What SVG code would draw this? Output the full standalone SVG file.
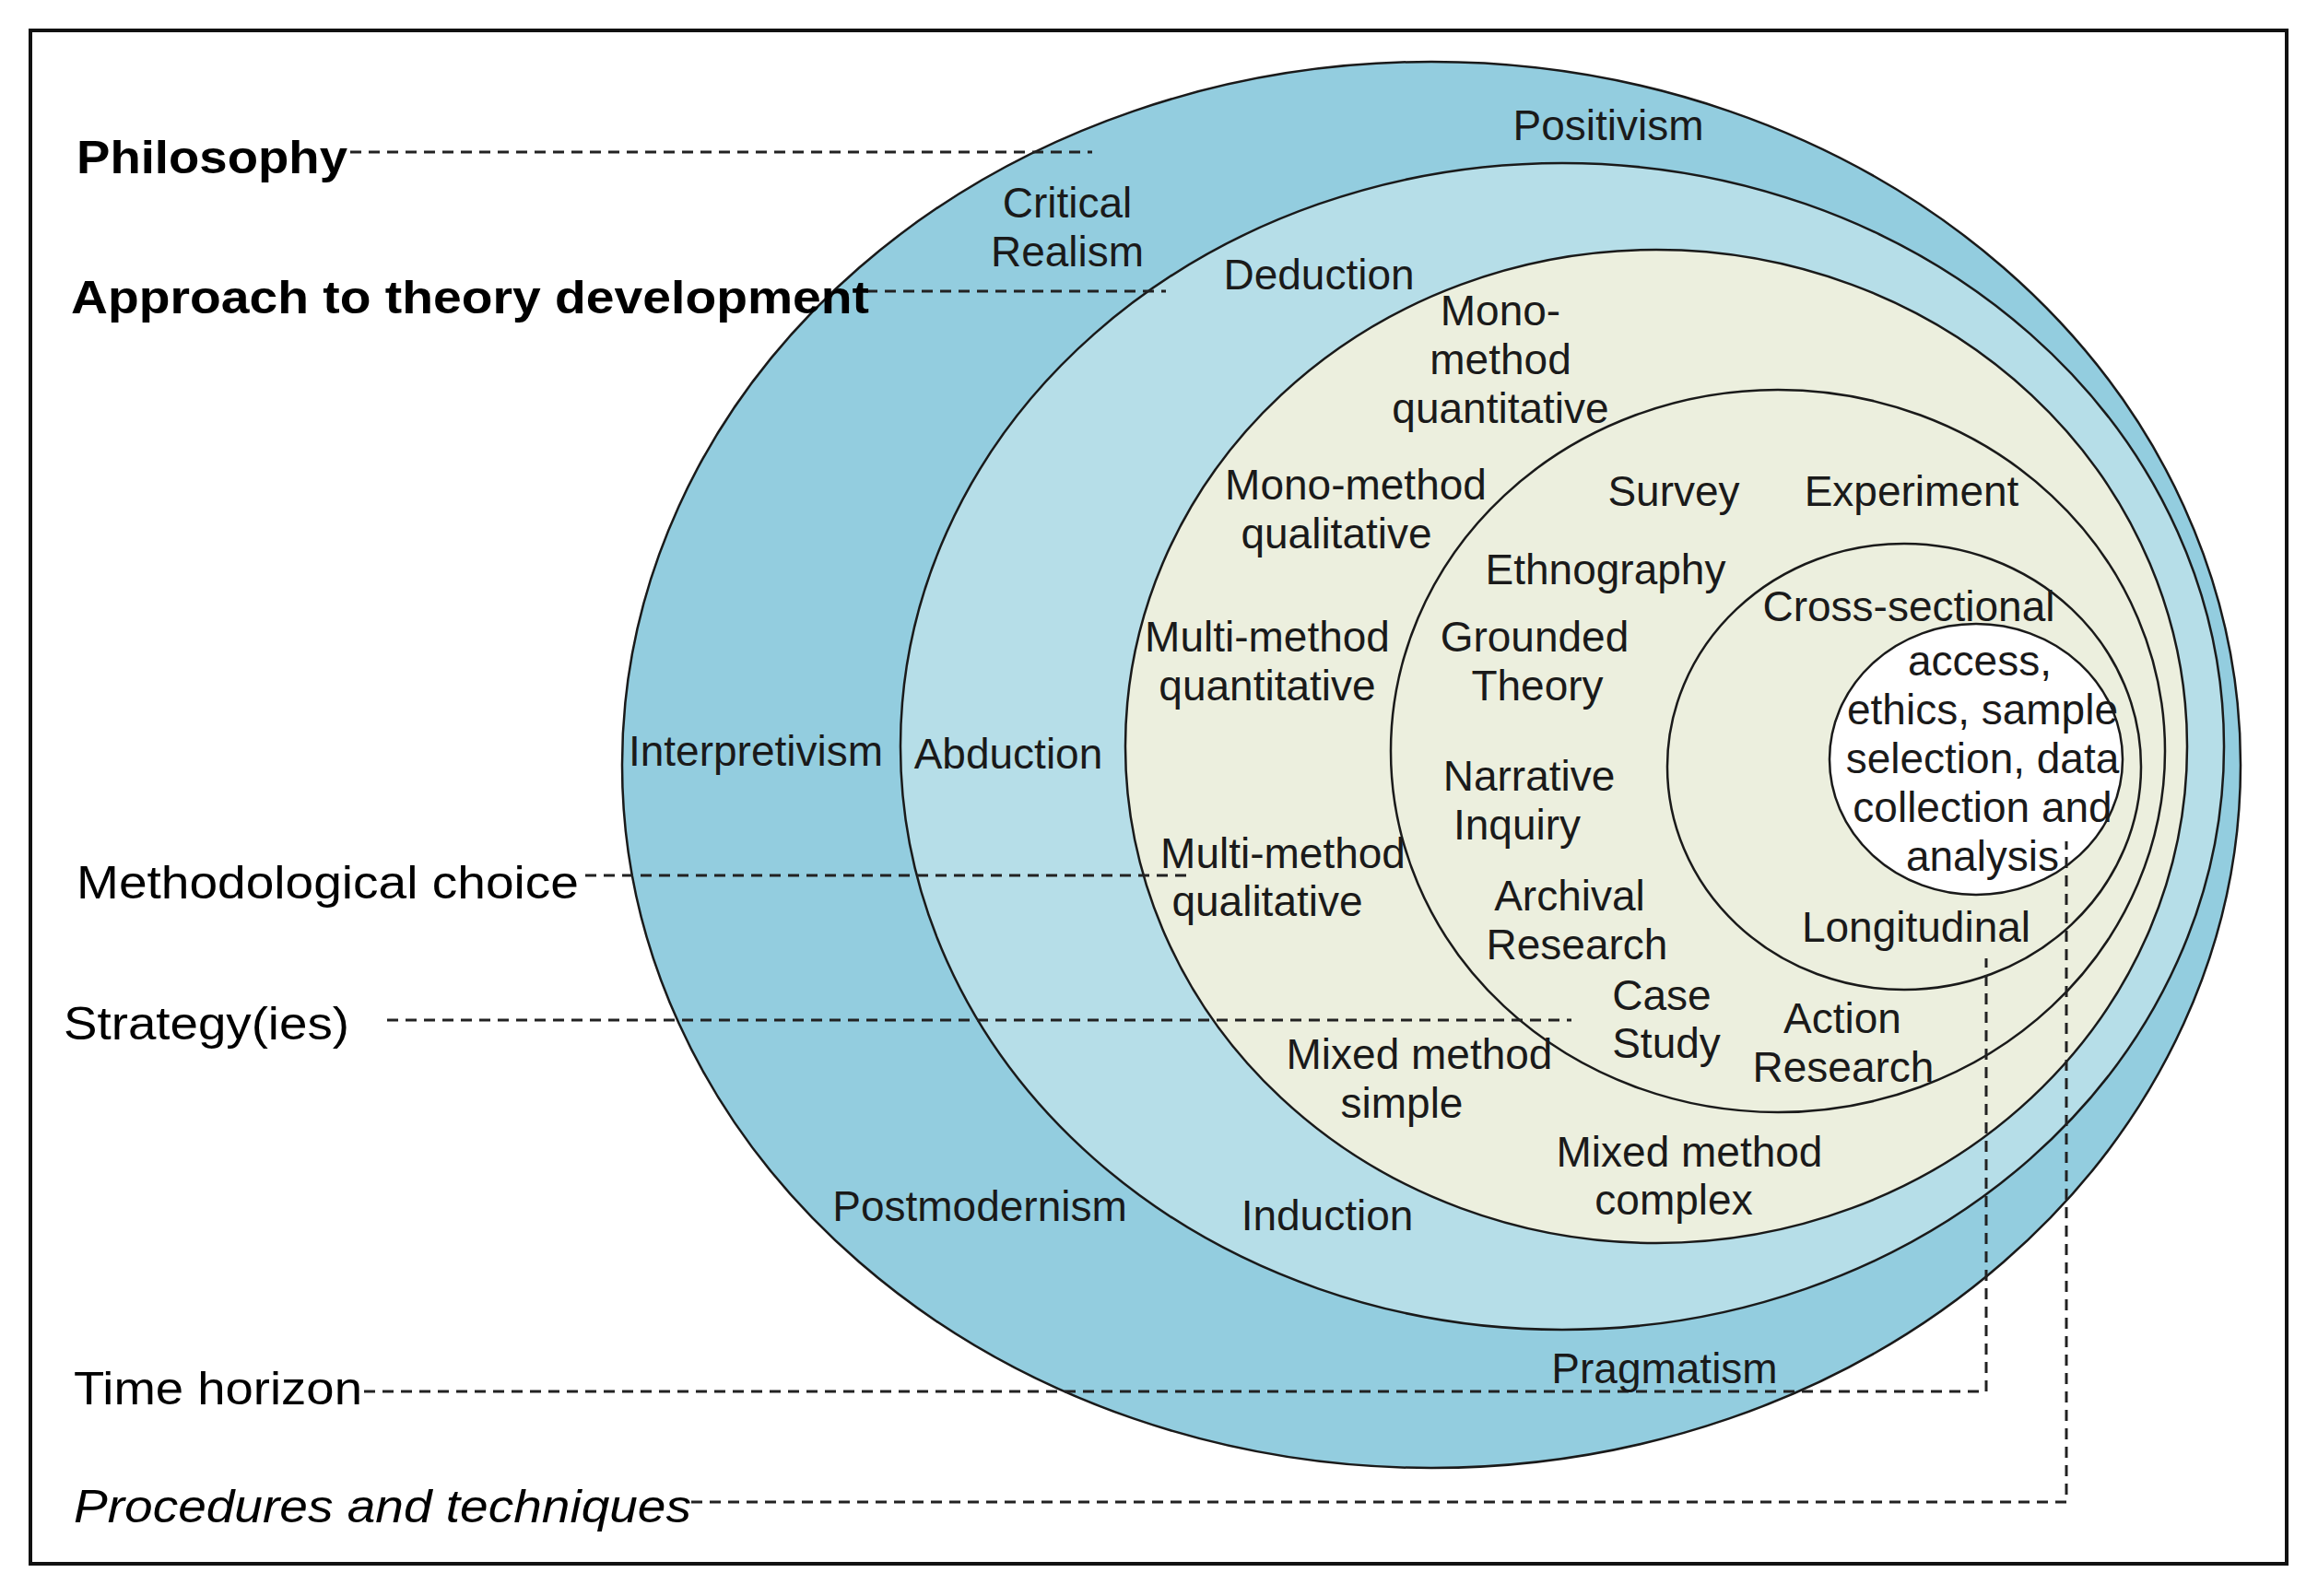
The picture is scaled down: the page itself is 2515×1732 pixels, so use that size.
<svg xmlns="http://www.w3.org/2000/svg" width="2515" height="1732" viewBox="0 0 2515 1732">
<style>
.r{stroke:#1a1a1a;stroke-width:2.5}
.t{font-family:"Liberation Sans",Arial,sans-serif;font-size:46px;fill:#1a1a1a;text-anchor:middle}
.l{font-family:"Liberation Sans",Arial,sans-serif;font-size:50px;fill:#000}
.d{fill:none;stroke:#222;stroke-width:3;stroke-dasharray:12 8}
</style>
<rect x="0" y="0" width="2515" height="1732" fill="#fff"/>
<rect x="33" y="33" width="2448" height="1664" fill="#fff" stroke="#111" stroke-width="4"/>
<g id="philosophy"><ellipse class="r" cx="1553" cy="830" rx="878" ry="763" fill="#93CDDF"/></g>
<g id="approach"><ellipse class="r" cx="1695" cy="810" rx="718" ry="633" fill="#B6DEE8"/></g>
<g id="methodological"><ellipse class="r" cx="1797" cy="810" rx="576" ry="539" fill="#ECEFDE"/></g>
<g id="strategies"><ellipse class="r" cx="1929" cy="815" rx="420" ry="392" fill="#ECEFDE"/></g>
<g id="time"><ellipse class="r" cx="2066" cy="832" rx="257" ry="242" fill="#ECEFDE"/></g>
<g id="procedures"><ellipse class="r" cx="2144" cy="824" rx="159" ry="147" fill="#fff"/></g>
<g id="connectors">
<path class="d" d="M380 165H1185"/>
<path class="d" d="M940 316H1265"/>
<path class="d" d="M635 950H1290"/>
<path class="d" d="M420 1107H1705"/>
<path class="d" d="M395 1510H2155V1040"/>
<path class="d" d="M750 1630H2242V913"/>
</g>
<g id="labels">
<text class="l" x="83" y="188" font-weight="bold" textLength="294" lengthAdjust="spacingAndGlyphs">Philosophy</text>
<text class="l" x="77" y="340" font-weight="bold" textLength="866" lengthAdjust="spacingAndGlyphs">Approach to theory development</text>
<text class="l" x="83" y="975" textLength="545" lengthAdjust="spacingAndGlyphs">Methodological choice</text>
<text class="l" x="69" y="1128" textLength="310" lengthAdjust="spacingAndGlyphs">Strategy(ies)</text>
<text class="l" x="80" y="1524" textLength="313" lengthAdjust="spacingAndGlyphs">Time horizon</text>
<text class="l" x="80" y="1652" font-style="italic" textLength="670" lengthAdjust="spacingAndGlyphs">Procedures and techniques</text>
</g>
<g id="ring-texts">
<text class="t" x="1745" y="152">Positivism</text>
<text class="t" x="1158" y="236">Critical</text>
<text class="t" x="1158" y="289">Realism</text>
<text class="t" x="1431" y="314">Deduction</text>
<text class="t" x="1628" y="353">Mono-</text>
<text class="t" x="1628" y="406">method</text>
<text class="t" x="1628" y="459">quantitative</text>
<text class="t" x="1471" y="542">Mono-method</text>
<text class="t" x="1450" y="595">qualitative</text>
<text class="t" x="1816" y="549">Survey</text>
<text class="t" x="2074" y="549">Experiment</text>
<text class="t" x="1742" y="634">Ethnography</text>
<text class="t" x="2071" y="674">Cross-sectional</text>
<text class="t" x="2148" y="733">access,</text>
<text class="t" x="2151" y="786">ethics, sample</text>
<text class="t" x="2151" y="839">selection, data</text>
<text class="t" x="2151" y="892">collection and</text>
<text class="t" x="2151" y="945">analysis</text>
<text class="t" x="1375" y="707">Multi-method</text>
<text class="t" x="1375" y="760">quantitative</text>
<text class="t" x="1665" y="707">Grounded</text>
<text class="t" x="1668" y="760">Theory</text>
<text class="t" x="820" y="831">Interpretivism</text>
<text class="t" x="1094" y="834">Abduction</text>
<text class="t" x="1659" y="858">Narrative</text>
<text class="t" x="1646" y="911">Inquiry</text>
<text class="t" x="1392" y="942">Multi-method</text>
<text class="t" x="1375" y="994">qualitative</text>
<text class="t" x="1703" y="988">Archival</text>
<text class="t" x="1711" y="1041">Research</text>
<text class="t" x="2079" y="1022">Longitudinal</text>
<text class="t" x="1803" y="1096">Case</text>
<text class="t" x="1808" y="1148">Study</text>
<text class="t" x="1999" y="1121">Action</text>
<text class="t" x="2000" y="1174">Research</text>
<text class="t" x="1540" y="1160">Mixed method</text>
<text class="t" x="1521" y="1213">simple</text>
<text class="t" x="1833" y="1266">Mixed method</text>
<text class="t" x="1816" y="1318">complex</text>
<text class="t" x="1063" y="1325">Postmodernism</text>
<text class="t" x="1440" y="1335">Induction</text>
<text class="t" x="1806" y="1501">Pragmatism</text>
</g>
</svg>
